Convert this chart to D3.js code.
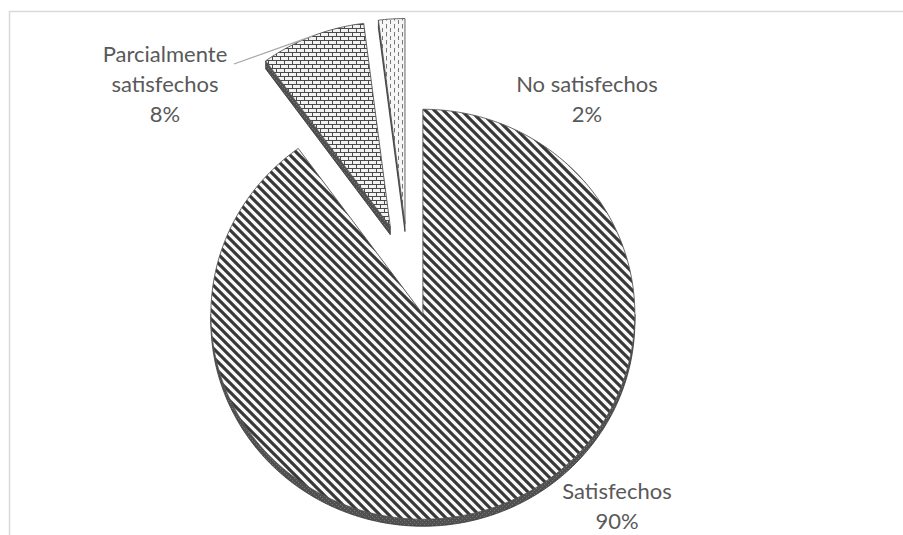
<!DOCTYPE html>
<html>
<head>
<meta charset="utf-8">
<script src="https://cdn.jsdelivr.net/npm/d3@7"></script>
<style>
  html, body { margin: 0; padding: 0; background: #ffffff; }
  svg { display: block; }
</style>
</head>
<body>
<div id="chart"></div>
<script>
// ---- data ----
const categories = ["Satisfechos", "Parcialmente satisfechos", "No satisfechos"];
const values = [90, 8, 2];
const labelLines = [["Satisfechos"], ["Parcialmente", "satisfechos"], ["No satisfechos"]];
const patternIds = ["pSat", "pParc", "pNo"];

// ---- layout ----
const W = 903, H = 535;
const P0 = [408, 270];      // pie centre
const RX = 212, RY = 205;   // ellipse radii (tilted pie)
const EXPLODE = 0.227;      // explosion, in radius units
const DEPTH = 7;            // visible thickness
const labelAnchors = [[617, 499], [165, 62], [587, 92]];
const LINE_H = 30;

const svg = d3.select("#chart").append("svg")
  .attr("width", W).attr("height", H);

// chart area border
svg.append("rect")
  .attr("x", 9.5).attr("y", 11.5).attr("width", W).attr("height", H)
  .attr("fill", "#fff").attr("stroke", "#d9d9d9").attr("stroke-width", 1.5);

// ---- patterns ----
const defs = svg.append("defs");
// wide downward diagonal
const T = 9;
const p1 = defs.append("pattern").attr("id", "pSat").attr("patternUnits", "userSpaceOnUse")
  .attr("width", T).attr("height", T);
p1.append("rect").attr("width", T).attr("height", T).attr("fill", "#f8f8f8");
p1.append("path").attr("d", `M-2,-2L${T + 2},${T + 2}M-2,${T - 2}L2,${T + 2}M${T - 2},-2L${T + 2},2`)
  .attr("stroke", "#383838").attr("stroke-width", 3.1);
// horizontal brick
const p2 = defs.append("pattern").attr("id", "pParc").attr("patternUnits", "userSpaceOnUse")
  .attr("width", 8).attr("height", 8);
p2.append("rect").attr("width", 8).attr("height", 8).attr("fill", "#f2f2f2");
p2.append("path").attr("d", "M0,0.5H8M0,4.5H8M0.5,0.5V4.5M4.5,4.5V8")
  .attr("stroke", "#4a4a4a").attr("stroke-width", 1);
// dashed vertical
const p3 = defs.append("pattern").attr("id", "pNo").attr("patternUnits", "userSpaceOnUse")
  .attr("width", 8).attr("height", 8);
p3.append("rect").attr("width", 8).attr("height", 8).attr("fill", "#f6f6f6");
p3.append("path").attr("d", "M2.5,0V4.5M6.5,4V8")
  .attr("stroke", "#777").attr("stroke-width", 1);
// dark side
const p4 = defs.append("pattern").attr("id", "pSide").attr("patternUnits", "userSpaceOnUse")
  .attr("width", 4).attr("height", 4);
p4.append("rect").attr("width", 4).attr("height", 4).attr("fill", "#505050");
p4.append("path").attr("d", "M0,0.5H1M2,2.5H3").attr("stroke", "#757575").attr("stroke-width", 1);

// ---- pie ----
const pie = d3.pie().sort(null).value(d => d)(values);
const total = d3.sum(values);
const pct = d3.format(".0%");

function centreOf(d) {
  const mid = (d.startAngle + d.endAngle) / 2;
  return [P0[0] + EXPLODE * RX * Math.sin(mid), P0[1] - EXPLODE * RY * Math.cos(mid)];
}
function pt(c, a, r, dy = 0) {
  return [c[0] + RX * r * Math.sin(a), c[1] - RY * r * Math.cos(a) + dy];
}
function arcPts(c, a0, a1, dy = 0) {
  const n = Math.max(2, Math.ceil(Math.abs(a1 - a0) / 0.01));
  return d3.range(n + 1).map(i => pt(c, a0 + (a1 - a0) * i / n, 1, dy));
}
const line = d3.line();

const order = [1, 2, 0]; // back slices first
order.forEach(i => {
  const d = pie[i];
  const c = centreOf(d);
  const g = svg.append("g");
  // outer rim (front half)
  const r0 = Math.max(d.startAngle, Math.PI / 2), r1 = Math.min(d.endAngle, 3 * Math.PI / 2);
  if (r1 > r0) {
    const top = arcPts(c, r0, r1), bot = arcPts(c, r0, r1, DEPTH).reverse();
    g.append("path").attr("d", line(top.concat(bot)) + "Z")
      .attr("fill", "url(#pSide)").attr("stroke", "#333").attr("stroke-width", 0.8);
  }
  // cut face at start angle (visible when facing viewer)
  if (Math.cos(d.startAngle) > 0 && Math.sin(d.startAngle) < 0 && i !== 0) {
    const a = d.startAngle;
    const q = [c, pt(c, a, 1), pt(c, a, 1, DEPTH + 1), [c[0], c[1] + DEPTH + 1]];
    g.append("path").attr("d", line(q) + "Z")
      .attr("fill", "url(#pSide)").attr("stroke", "#333").attr("stroke-width", 0.8);
  }
  // top face
  const face = [c].concat(arcPts(c, d.startAngle, d.endAngle));
  g.append("path").attr("d", line(face) + "Z")
    .attr("fill", `url(#${patternIds[i]})`)
    .attr("stroke", "#555").attr("stroke-width", 0.9).attr("stroke-linejoin", "round");
});

// leader line for "Parcialmente satisfechos"
{
  const d = pie[1];
  const c = centreOf(d);
  const m = pt(c, (d.startAngle + d.endAngle) / 2, 1);
  svg.append("path")
    .attr("d", line([[labelAnchors[1][0] + 69, labelAnchors[1][1] + 2], m]))
    .attr("stroke", "#a6a6a6").attr("stroke-width", 1.2).attr("fill", "none");
}

// labels
pie.forEach((d, i) => {
  const lines = labelLines[i].concat([pct(d.value / total)]);
  const t = svg.append("text")
    .attr("x", labelAnchors[i][0]).attr("y", labelAnchors[i][1])
    .attr("text-anchor", "middle")
    .attr("font-family", "Lato, 'Open Sans', sans-serif")
    .attr("font-size", 22).attr("fill", "#595959");
  lines.forEach((s, k) => {
    t.append("tspan").attr("x", labelAnchors[i][0]).attr("dy", k === 0 ? 0 : LINE_H).text(s);
  });
});
</script>
</body>
</html>
